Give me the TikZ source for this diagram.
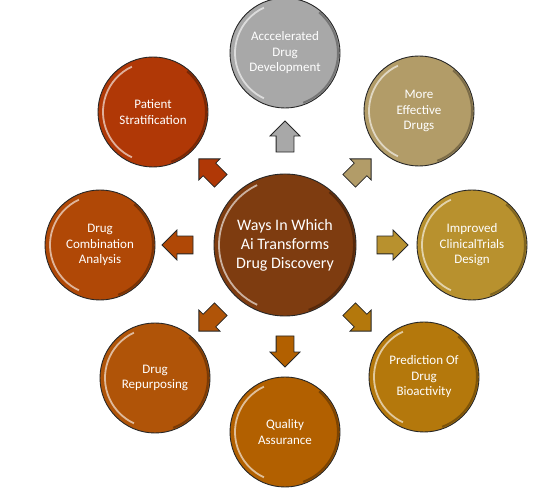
\documentclass[tikz,border=0pt]{standalone}
\usepackage{fontspec}
\setmainfont{Carlito}
\usetikzlibrary{shapes.arrows, positioning, calc}

\definecolor{cHub}{HTML}{7E3C10}
\definecolor{cAccel}{HTML}{A8A8A8}
\definecolor{cEffective}{HTML}{B29C68}
\definecolor{cTrials}{HTML}{B8912E}
\definecolor{cPredict}{HTML}{B4780C}
\definecolor{cQuality}{HTML}{B26000}
\definecolor{cRepurpose}{HTML}{B05408}
\definecolor{cCombo}{HTML}{B04806}
\definecolor{cPatient}{HTML}{B03806}

\tikzset{
  ball/.style={circle, draw=black!85, line width=.9pt, fill=#1, text=white,
    align=center, inner sep=0pt,
    path picture={
      \draw[white, line width=1.8pt, opacity=.6]
        let \p1=(path picture bounding box.center),
            \p2=(path picture bounding box.east),
            \n1={\x2-\x1-5pt} in
        ($(\p1)+(115:\n1)$) arc[start angle=115, end angle=245, radius=\n1];
      \draw[black, line width=2pt, opacity=.3]
        let \p1=(path picture bounding box.center),
            \p2=(path picture bounding box.east),
            \n1={\x2-\x1-2pt} in
        ($(\p1)+(-70:\n1)$) arc[start angle=-70, end angle=50, radius=\n1];
    }},
  hub/.style={ball=#1, minimum size=142pt, font=\fontsize{16}{19}\selectfont},
  leaf/.style={ball=#1, minimum size=110pt, font=\fontsize{13}{15.5}\selectfont},
  pointer/.style={single arrow, draw=black!85, line width=.8pt, fill=#1,
    minimum height=31pt, minimum width=29pt, inner sep=8.5pt,
    single arrow head extend=6pt},
}

\begin{document}
\begin{tikzpicture}[x=1pt, y=1pt, on grid]
  \useasboundingbox (0,0) rectangle (534,494);

  \node[hub=cHub] (hub) at (285,249) {Ways In Which\\Ai Transforms\\Drug Discovery};

  % outer circles
  \node[leaf=cAccel, above=192pt of hub] (accel) {Acccelerated\\Drug\\Development};
  \node[leaf=cEffective, above right=134pt and 134pt of hub] (effective) {More\\Effective\\Drugs};
  \node[leaf=cTrials, right=187pt of hub] (trials) {Improved\\ClinicalTrials\\Design};
  \node[leaf=cPredict, below right=132pt and 139pt of hub] (predict) {Prediction Of\\Drug\\Bioactivity};
  \node[leaf=cQuality, below=187pt of hub] (quality) {Quality\\Assurance};
  \node[leaf=cRepurpose, below left=133pt and 130pt of hub] (repurpose) {Drug\\Repurposing};
  \node[leaf=cCombo, left=185pt of hub] (combo) {Drug\\Combination\\Analysis};
  \node[leaf=cPatient, above left=133pt and 132pt of hub] (patient) {Patient\\Stratification};

  % arrows
  \node[pointer=cAccel, rotate=90, above=104pt of hub] (toAccel) {};
  \node[pointer=cEffective, rotate=45, above right=72pt and 72pt of hub] (toEffective) {};
  \node[pointer=cTrials, right=103pt of hub] (toTrials) {};
  \node[pointer=cPredict, rotate=-45, below right=72pt and 72pt of hub] (toPredict) {};
  \node[pointer=cQuality, rotate=-90, below=102pt of hub] (toQuality) {};
  \node[pointer=cRepurpose, rotate=-135, below left=72pt and 72pt of hub] (toRepurpose) {};
  \node[pointer=cCombo, rotate=180, left=103pt of hub] (toCombo) {};
  \node[pointer=cPatient, rotate=135, above left=72pt and 72pt of hub] (toPatient) {};
\end{tikzpicture}
\end{document}
